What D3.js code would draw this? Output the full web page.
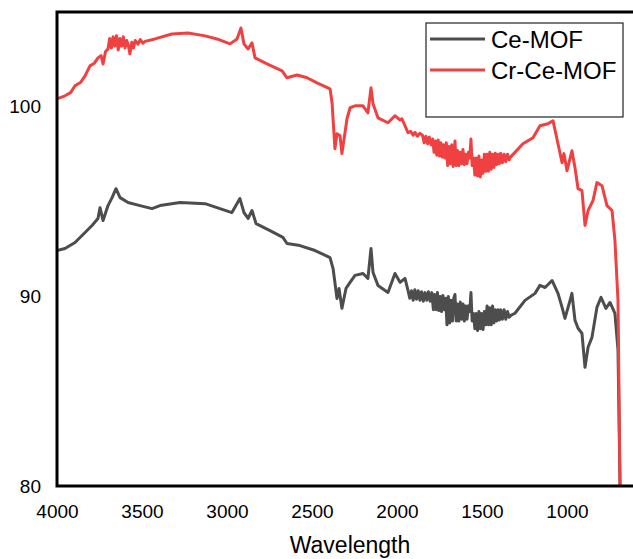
<!DOCTYPE html>
<html>
<head>
<meta charset="utf-8">
<script src="https://cdn.jsdelivr.net/npm/d3@7"></script>
<style>
  body { margin: 0; background: #fff; }
  svg { display: block; font-family: "Liberation Sans", Arial, sans-serif; }
</style>
</head>
<body>
<div id="chart"></div>
<script>
// FTIR spectra (wavenumber, transmittance)
const ceWave = [4000, 3953, 3894, 3835, 3794, 3759, 3747, 3729, 3700, 3676, 3653, 3629, 3582, 3512, 3441, 3394, 3276, 3129, 3059, 2971, 2924, 2900, 2876, 2853, 2829, 2747, 2671, 2647, 2571, 2482, 2394, 2376, 2353, 2341, 2324, 2300, 2276, 2247, 2200, 2171, 2153, 2141, 2112, 2053, 2012, 1982, 1953,
  1935, 1925, 1915, 1905, 1895, 1885, 1875, 1865, 1855, 1845, 1835, 1825, 1815, 1805, 1795, 1786, 1778, 1770, 1762, 1754, 1746, 1738, 1730, 1722, 1714, 1706, 1698, 1690, 1682, 1674, 1666, 1659, 1652, 1644, 1636, 1628, 1620, 1612, 1604, 1596, 1588, 1580, 1572, 1565, 1558, 1550, 1542, 1534, 1526, 1518, 1510, 1502, 1494, 1486, 1478, 1470, 1462, 1454, 1446, 1438, 1430, 1422, 1414, 1406, 1398, 1390, 1380, 1370, 1360, 1350, 1340, 1330,
  1306, 1247, 1188, 1159, 1129, 1088, 1053, 1029, 1012, 982, 971, 953, 935, 912, 894, 876, 853, 824, 800, 771, 747, 718, 700, 688];
const ceT = [92.42, 92.53, 92.84, 93.37, 93.74, 94.11, 94.68, 94.0, 94.79, 95.21, 95.68, 95.21, 94.95, 94.79, 94.63, 94.79, 94.95, 94.89, 94.68, 94.42, 95.16, 94.42, 94.11, 94.53, 93.84, 93.47, 93.11, 92.79, 92.68, 92.42, 92.05, 91.47, 89.89, 90.42, 89.37, 90.42, 90.74, 91.11, 91.21, 90.95, 92.53, 91.26, 90.58, 90.21, 91.21, 90.74, 90.95,
  90.3, 89.9, 90.3, 89.8, 90.35, 89.85, 90.3, 89.8, 90.25, 89.75, 90.2, 89.8, 90.25, 89.75, 90.2, 89.3, 90.1, 89.3, 90.2, 89.25, 90.0, 89.2, 90.05, 89.3, 89.9, 88.5, 90.0, 88.6, 89.8, 88.7, 89.9, 90.1, 88.7, 89.6, 88.7, 89.7, 88.8, 89.6, 88.7, 89.5, 88.8, 89.5, 89.2, 90.2, 88.7, 89.1, 88.3, 89.1, 88.2, 89.2, 88.3, 89.1, 88.25, 89.2, 88.5, 89.5, 88.5, 89.4, 88.5, 89.5, 88.6, 89.3, 88.7, 89.3, 88.75, 89.3, 88.8, 89.3, 88.8, 89.2, 88.9, 89.0,
  89.11, 89.79, 90.16, 90.58, 90.47, 90.84, 90.16, 89.42, 88.84, 89.79, 90.16, 88.74, 88.32, 88.05, 86.26, 87.32, 87.84, 89.42, 89.95, 89.37, 89.68, 89.11, 87.16, 80];

const crWave = [4000, 3953, 3920, 3894, 3860, 3835, 3806, 3780, 3759, 3741, 3729, 3715, 3700, 3690, 3680, 3670, 3660, 3650, 3640, 3630, 3620, 3610, 3600, 3590, 3582, 3571, 3560, 3550, 3540, 3524, 3510, 3495, 3482, 3424, 3324, 3229, 3129, 3059, 2982, 2941, 2918, 2900, 2876, 2853, 2835, 2765, 2676, 2647, 2588, 2529, 2471, 2394, 2382, 2365, 2353, 2335, 2324, 2294, 2276, 2247, 2200, 2171, 2153, 2141, 2112, 2053, 2012, 1982, 1971, 1935, 1920, 1905, 1894, 1880, 1865,
  1850, 1840, 1830, 1820, 1810, 1800, 1790, 1782, 1774, 1766, 1758, 1750, 1742, 1734, 1726, 1718, 1710, 1702, 1694, 1686, 1678, 1670, 1662, 1659, 1652, 1644, 1636, 1628, 1620, 1612, 1604, 1596, 1588, 1580, 1572, 1565, 1558, 1550, 1542, 1534, 1526, 1518, 1510, 1502, 1494, 1486, 1478, 1470, 1462, 1454, 1446, 1438, 1430, 1422, 1414, 1406, 1398, 1390, 1380, 1370, 1360, 1350, 1340, 1335,
  1259, 1200, 1159, 1112, 1082, 1053, 1029, 1018, 1000, 971, 953, 935, 912, 894, 876, 847, 824, 794, 765, 735, 718, 700, 688];
const crT = [100.42, 100.58, 100.75, 101.11, 101.3, 101.63, 102.16, 102.3, 102.58, 102.7, 102.26, 102.9, 103.05, 103.6, 103.1, 103.7, 103.2, 103.75, 103.0, 103.6, 103.2, 103.7, 103.1, 103.5, 103.3, 102.79, 103.4, 103.1, 103.5, 103.3, 103.55, 103.35, 103.45, 103.58, 103.84, 103.89, 103.74, 103.58, 103.32, 103.58, 104.16, 103.32, 103.05, 103.37, 102.58, 102.26, 101.89, 101.53, 101.68, 101.53, 101.26, 100.95, 100.21, 97.79, 98.58, 98.47, 97.53, 99.37, 99.95, 100.05, 100.05, 99.68, 101.0, 100.16, 99.42, 99.16, 99.53, 99.3, 99.37, 98.63, 98.7, 98.5, 98.65, 98.45, 98.6,
  98.5, 98.1, 98.45, 98.05, 98.4, 98.0, 98.3, 97.6, 98.2, 97.45, 98.25, 97.4, 98.1, 97.35, 98.0, 97.3, 98.1, 96.9, 97.9, 97.0, 98.0, 96.85, 97.7, 98.2, 96.9, 97.7, 96.9, 97.6, 97.0, 97.75, 96.95, 97.5, 97.0, 97.6, 97.3, 98.3, 96.9, 97.3, 96.4, 97.3, 96.35, 97.4, 96.3, 97.2, 96.5, 97.5, 96.6, 97.5, 96.6, 97.6, 96.7, 97.5, 96.8, 97.55, 96.95, 97.5, 97.0, 97.55, 97.05, 97.5, 97.1, 97.5, 97.2, 97.32,
  98.05, 98.37, 99.0, 99.11, 99.26, 98.05, 97.05, 97.53, 96.63, 97.68, 96.79, 95.68, 95.58, 93.74, 94.53, 95.05, 96.0, 95.84, 94.79, 94.53, 92.95, 89.79, 80];

const seriesNames = ["Ce-MOF", "Cr-Ce-MOF"];
const seriesColors = ["#4d4d4d", "#ef4141"];
const xTicks = [4000, 3500, 3000, 2500, 2000, 1500, 1000];
const yTicks = [80, 90, 100];

const width = 633, height = 559;
const margin = {top: 12, left: 57, bottom: 73};
const plotRight = 669; // frame runs past the right edge of the picture

const svg = d3.select("#chart").append("svg")
  .attr("width", width)
  .attr("height", height);

const x = d3.scaleLinear().domain([4000, 400]).range([margin.left, plotRight]);
const y = d3.scaleLinear().domain([80, 105]).range([height - margin.bottom, margin.top]);

svg.append("clipPath").attr("id", "plotclip")
  .append("rect")
    .attr("x", margin.left).attr("y", margin.top)
    .attr("width", plotRight - margin.left)
    .attr("height", y(80) - margin.top);

const series = [
  {name: seriesNames[0], color: seriesColors[0], pts: ceWave.map((w, i) => [w, ceT[i]])},
  {name: seriesNames[1], color: seriesColors[1], pts: crWave.map((w, i) => [w, crT[i]])}
];

const line = d3.line().x(d => x(d[0])).y(d => y(d[1]));

svg.append("g").attr("clip-path", "url(#plotclip)")
  .selectAll("path")
  .data(series)
  .join("path")
    .attr("fill", "none")
    .attr("stroke", d => d.color)
    .attr("stroke-width", 3)
    .attr("stroke-linejoin", "round")
    .attr("d", d => line(d.pts));

// frame
svg.append("rect")
  .attr("x", margin.left)
  .attr("y", margin.top)
  .attr("width", plotRight - margin.left)
  .attr("height", y(80) - margin.top)
  .attr("fill", "none")
  .attr("stroke", "#000")
  .attr("stroke-width", 3);

// axes (labels only, no tick marks)
const xAxis = svg.append("g")
  .attr("transform", `translate(0,${y(80)})`)
  .call(d3.axisBottom(x).tickValues(xTicks).tickSize(0).tickPadding(0).tickFormat(d3.format("d")));
xAxis.select(".domain").remove();
xAxis.selectAll("text")
  .attr("y", 32)
  .attr("dy", null)
  .style("font-size", "19px")
  .style("font-family", "Liberation Sans, Arial, sans-serif")
  .attr("fill", "#000");

const yAxis = svg.append("g")
  .attr("transform", `translate(${margin.left},0)`)
  .call(d3.axisLeft(y).tickValues(yTicks).tickSize(0).tickPadding(16));
yAxis.select(".domain").remove();
yAxis.selectAll("text")
  .style("font-size", "19px")
  .style("font-family", "Liberation Sans, Arial, sans-serif")
  .attr("fill", "#000");

svg.append("text")
  .attr("x", 350)
  .attr("y", 553)
  .attr("text-anchor", "middle")
  .style("font-size", "23px")
  .text("Wavelength");

// legend
const legend = svg.append("g");
legend.append("rect")
  .attr("x", 426).attr("y", 23)
  .attr("width", 197).attr("height", 94)
  .attr("fill", "#fff")
  .attr("stroke", "#222")
  .attr("stroke-width", 1.2);

legend.selectAll(".leg-line")
  .data(series)
  .join("line")
    .attr("class", "leg-line")
    .attr("x1", 430).attr("x2", 485)
    .attr("y1", (d, i) => 39 + i * 31)
    .attr("y2", (d, i) => 39 + i * 31)
    .attr("stroke", d => d.color)
    .attr("stroke-width", 3);

legend.selectAll(".leg-text")
  .data(series)
  .join("text")
    .attr("class", "leg-text")
    .attr("x", 491)
    .attr("y", (d, i) => 48 + i * 30.5)
    .style("font-size", "24px")
    .text(d => d.name);
</script>
</body>
</html>
